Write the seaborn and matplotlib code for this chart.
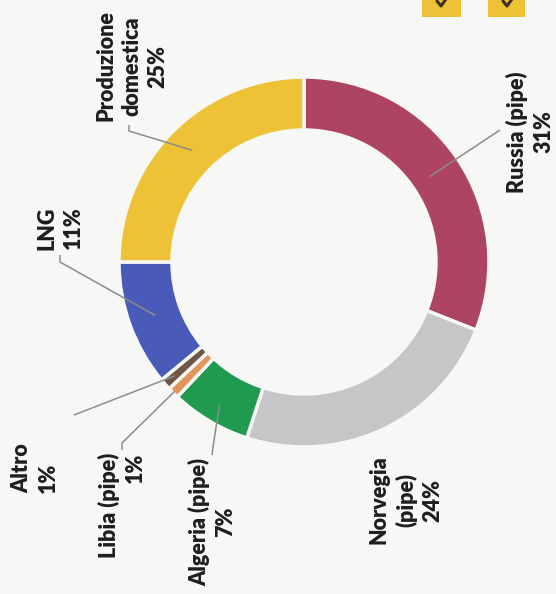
import numpy as np
import matplotlib
matplotlib.use("Agg")
import matplotlib.pyplot as plt
from matplotlib.patches import Rectangle
import seaborn as sns

# Gas supply mix (share of total, %)
sources = ["Russia (pipe)", "Norvegia\n(pipe)", "Algeria (pipe)", "Libia (pipe)",
           "Altro", "LNG", "Produzione\ndomestica"]
shares = [31, 24, 7, 1, 1, 11, 25]
colors = ["#AC4462", "#C6C6C8", "#1F9A4F", "#E1955A", "#6F5646", "#4A5AB8", "#EEC236"]

W, H = 556, 594
BG = "#F7F7F5"
INK = "#1E1E1E"
LEADER = "#8C8C8C"

sns.set_theme(style="white")
plt.rcParams["font.family"] = ["Lato", "DejaVu Sans"]

fig = plt.figure(figsize=(W / 100, H / 100), dpi=100, facecolor=BG)
ax = fig.add_axes([0, 0, 1, 1])
ax.set_facecolor(BG)

# ring geometry in pixel units (y grows downward)
CX, CY, R, RING = 304, 262, 185, 53

ax.pie(shares, colors=colors, startangle=-90, counterclock=True,
       center=(CX, CY), radius=R, frame=True,
       wedgeprops=dict(width=RING, edgecolor=BG, linewidth=2.5))

ax.set_xlim(0, W)
ax.set_ylim(H, 0)
ax.set_aspect("equal")
ax.axis("off")

# label block centre, line alignment, leader path and leader radius
label_pos = [(530, 132), (406, 500), (212, 522), (122, 505), (35, 468), (60, 228), (132, 66)]
label_align = ["center", "center", "center", "right", "left", "center", "center"]
leader_path = [[(500, 130)], None, [(212, 455), (213, 447)], [(122, 450), (122, 443)],
               [(74, 415)], [(60, 255), (60, 262)], [(129, 125), (129, 131)]]
leader_r = [152, None, 166, 183, 172, 158, 158]

cum = 0.0
for name, s, pos, al, path, lr in zip(sources, shares, label_pos, label_align,
                                      leader_path, leader_r):
    mid = np.deg2rad(360.0 * (cum + s / 2) / sum(shares))
    cum += s
    ax.text(pos[0], pos[1], f"{name}\n{s}%", rotation=90, ha="center", va="center",
            multialignment=al, fontsize=15.5, fontweight="heavy", color=INK,
            linespacing=1.3)
    if path is not None:
        ex, ey = CX + lr * np.sin(mid), CY - lr * np.cos(mid)
        xs = [p[0] for p in path] + [ex]
        ys = [p[1] for p in path] + [ey]
        ax.plot(xs, ys, color=LEADER, lw=1.1, solid_capstyle="butt")

# legend keys peeking in at the top edge
for x0, w in [(422, 39), (488, 37)]:
    ax.add_patch(Rectangle((x0, -2), w, 19, facecolor="#EEC236", edgecolor="none"))
    ax.plot([x0 + 15, x0 + 19, x0 + 24], [1, 6, -1], color="#3A3020", lw=2.2)

fig.savefig("out.png", dpi=100, facecolor=BG)
